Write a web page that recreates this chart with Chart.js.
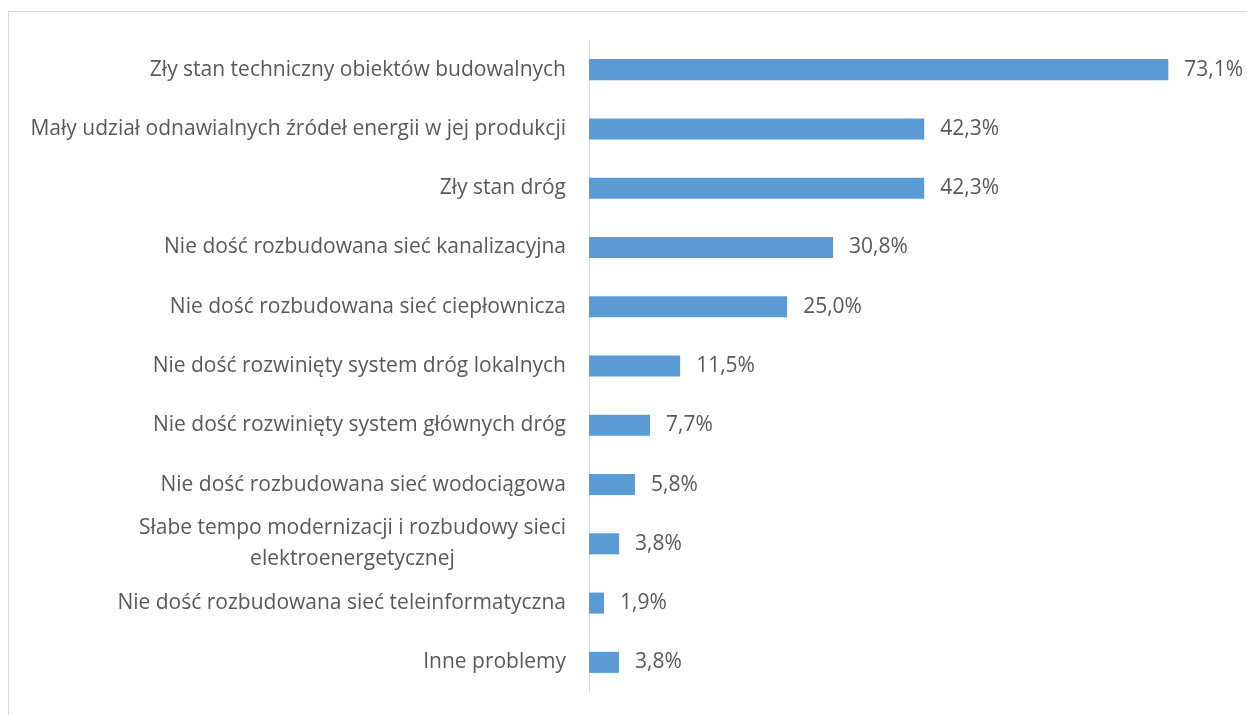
<!DOCTYPE html>
<html>
<head>
<meta charset="utf-8">
<script src="https://cdn.jsdelivr.net/npm/chart.js@4/dist/chart.umd.min.js"></script>
<style>
  body { margin: 0; background: #fff; }
  .frame { position: absolute; left: 8px; top: 11px; width: 1300px; height: 800px; border-top: 1px solid #d9d9d9; border-left: 1px solid #d9d9d9; }
  canvas { position: absolute; left: 0; top: 0; }
</style>
</head>
<body>
<div class="frame"></div>
<canvas id="chart" width="1247" height="715"></canvas>
<script>
const categories = [
  ["Zły stan techniczny obiektów budowalnych"],
  ["Mały udział odnawialnych źródeł energii w jej produkcji"],
  ["Zły stan dróg"],
  ["Nie dość rozbudowana sieć kanalizacyjna"],
  ["Nie dość rozbudowana sieć ciepłownicza"],
  ["Nie dość rozwinięty system dróg lokalnych"],
  ["Nie dość rozwinięty system głównych dróg"],
  ["Nie dość rozbudowana sieć wodociągowa"],
  ["Słabe tempo modernizacji i rozbudowy sieci", "elektroenergetycznej"],
  ["Nie dość rozbudowana sieć teleinformatyczna"],
  ["Inne problemy"]
]
const values = [73.1, 42.3, 42.3, 30.8, 25.0, 11.5, 7.7, 5.8, 3.8, 1.9, 3.8]
const valueLabels = values.map(v => v.toFixed(1).replace(".", ",") + "%")

const textColor = "#595959"
const fontFamily = "'Open Sans', sans-serif"
const fontSize = 21

// category labels: first line right aligned, following lines centred under it
const labelPlugin = {
  id: "labels",
  afterDraw(chart) {
    const ctx = chart.ctx
    const yScale = chart.scales.y
    const meta = chart.getDatasetMeta(0)
    ctx.save()
    ctx.font = fontSize + "px " + fontFamily
    ctx.fillStyle = textColor
    ctx.textBaseline = "middle"
    const right = chart.chartArea.left - 23
    const lineH = 31
    categories.forEach((lines, i) => {
      const y = yScale.getPixelForTick(i)
      const w = ctx.measureText(lines[0]).width
      const top = y - (lines.length - 1) * lineH / 2
      lines.forEach((line, j) => {
        if (j === 0) {
          ctx.textAlign = "right"
          ctx.fillText(line, right, top)
        } else {
          ctx.textAlign = "center"
          ctx.fillText(line, right - w / 2, top + j * lineH)
        }
      })
    })
    // value labels
    ctx.textAlign = "left"
    meta.data.forEach((bar, i) => {
      ctx.fillText(valueLabels[i], bar.x + 16, bar.y)
    })
    ctx.restore()
  }
}

new Chart(document.getElementById("chart"), {
  type: "bar",
  data: {
    labels: categories,
    datasets: [{
      data: values,
      backgroundColor: "#5b9bd5",
      borderWidth: 0,
      barPercentage: 0.5,
      categoryPercentage: 0.71
    }]
  },
  options: {
    indexAxis: "y",
    responsive: false,
    animation: false,
    layout: { padding: { top: 40, bottom: 23, left: 0, right: 24 } },
    plugins: { legend: { display: false }, tooltip: { enabled: false } },
    scales: {
      x: { display: false, min: 0, max: 80 },
      y: {
        afterFit: s => { s.width = 589 },
        ticks: { display: false },
        grid: { display: false },
        border: { display: true, color: "#d9d9d9", width: 1 }
      }
    }
  },
  plugins: [labelPlugin]
})
</script>
</body>
</html>
